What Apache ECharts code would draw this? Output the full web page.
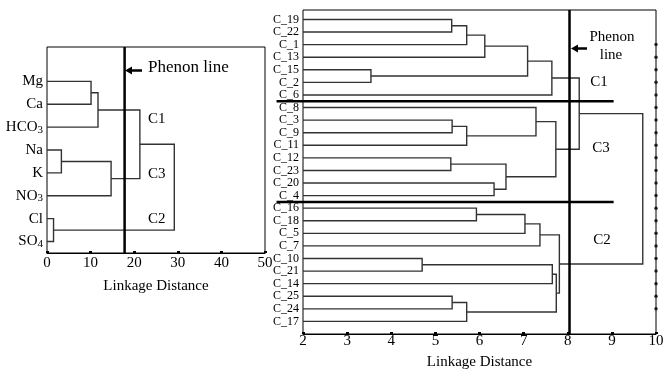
<!DOCTYPE html>
<html>
<head>
<meta charset="utf-8">
<script src="https://cdn.jsdelivr.net/npm/echarts@6/dist/echarts.min.js"></script>
<style>
  html, body { margin: 0; padding: 0; background: #fff; }
  #chart { width: 663px; height: 372px; }
</style>
</head>
<body>
<div id="chart"></div>
<script>
  // variables dendrogram (left)
  const leftLeaves = ['Mg', 'Ca', 'HCO3', 'Na', 'K', 'NO3', 'Cl', 'SO4'];
  // [child a, child b, linkage distance]; ids >= leaves.length are earlier merges
  const leftMerges = [
    [0, 1, 10.1], [8, 2, 11.7], [3, 4, 3.3], [10, 5, 14.7],
    [6, 7, 1.5], [9, 11, 21.3], [13, 12, 29.2]
  ];
  const leftTicks = [0, 10, 20, 30, 40, 50];
  const leftPhenon = 17.8;

  // samples dendrogram (right)
  const rightLeaves = ['C_19', 'C_22', 'C_1', 'C_13', 'C_15', 'C_2', 'C_6',
    'C_8', 'C_3', 'C_9', 'C_11', 'C_12', 'C_23', 'C_20', 'C_4',
    'C_16', 'C_18', 'C_5', 'C_7', 'C_10', 'C_21', 'C_14', 'C_25', 'C_24', 'C_17'];
  const rightMerges = [
    [0, 1, 5.37], [25, 2, 5.71], [26, 3, 6.12], [4, 5, 3.54], [27, 28, 7.09], [29, 6, 7.64],
    [8, 9, 5.38], [31, 10, 5.71], [7, 32, 7.28], [11, 12, 5.35], [13, 14, 6.33], [34, 35, 6.60],
    [33, 36, 7.73], [30, 37, 8.26],
    [15, 16, 5.93], [39, 17, 7.03], [40, 18, 7.37], [19, 20, 4.70], [42, 21, 7.65],
    [22, 23, 5.38], [44, 24, 5.71], [43, 45, 7.74], [41, 46, 7.81], [38, 47, 9.70]
  ];
  const rightGroups = [7, 8, 10]; // C1, C3, C2 sizes
  const rightTicks = [2, 3, 4, 5, 6, 7, 8, 9, 10];
  const rightPhenon = 8.04;

  const FONT = 'Liberation Serif';
  const LINE = '#333';

  function dendro(leaves, merges, base) {
    const pos = leaves.map((_, i) => [base, i]);
    const segs = [];
    merges.forEach(function (m) {
      const pa = pos[m[0]], pb = pos[m[1]], h = m[2];
      segs.push({ coords: [[pa[0], pa[1]], [h, pa[1]], [h, pb[1]], [pb[0], pb[1]]] });
      pos.push([h, (pa[1] + pb[1]) / 2]);
    });
    return segs;
  }

  function subLabel(name) {
    return name.replace(/(\d)$/, '{s|$1}');
  }

  const chart = echarts.init(document.getElementById('chart'));

  const xAxisBase = function (ticks, gridIndex, margin, nameGap) {
    return {
      type: 'value', gridIndex: gridIndex,
      min: ticks[0], max: ticks[ticks.length - 1], interval: ticks[1] - ticks[0],
      name: 'Linkage Distance', nameLocation: 'middle', nameGap: nameGap,
      nameTextStyle: { fontFamily: FONT, fontSize: 15, color: '#000' },
      axisLine: { show: true, onZero: false, lineStyle: { color: '#000', width: 1 } },
      axisTick: { show: true, inside: true, length: 2, lineStyle: { color: '#000', width: 3 } },
      axisLabel: { fontFamily: FONT, fontSize: 15, color: '#000', margin: margin },
      splitLine: { show: false }
    };
  };

  // boundaries between cluster groups
  const sepLines = [];
  let acc = 0;
  rightGroups.slice(0, -1).forEach(function (g) {
    acc += g;
    sepLines.push({ coords: [[1.4, acc - 0.5], [9.04, acc - 0.5]] });
  });

  const option = {
    animation: false,
    grid: [
      { left: 47, top: 47, width: 218, height: 206, show: true, borderColor: '#000', borderWidth: 1, outerBoundsMode: 'none' },
      { left: 303, top: 10, width: 353, height: 324, show: true, borderColor: '#000', borderWidth: 1, outerBoundsMode: 'none' }
    ],
    xAxis: [
      xAxisBase(leftTicks, 0, 3, 26),
      xAxisBase(rightTicks, 1, 0, 21)
    ],
    yAxis: [
      {
        type: 'value', gridIndex: 0, inverse: true, min: -1.5, max: leftLeaves.length - 0.5, interval: 0.5,
        axisLine: { show: false, onZero: false }, axisTick: { show: false }, splitLine: { show: false },
        axisLabel: {
          fontFamily: FONT, fontSize: 15, color: '#000', margin: 4,
          formatter: function (v) {
            return (Number.isInteger(v) && v >= 0 && v < leftLeaves.length) ? subLabel(leftLeaves[v]) : '';
          },
          rich: { s: { fontFamily: FONT, fontSize: 11, color: '#000', verticalAlign: 'bottom', padding: [5, 0, 0, 0] } }
        }
      },
      {
        type: 'value', gridIndex: 1, inverse: true, min: -0.75, max: rightLeaves.length, interval: 0.25,
        axisLine: { show: false, onZero: false }, axisTick: { show: false }, splitLine: { show: false },
        axisLabel: {
          fontFamily: FONT, fontSize: 12, color: '#000', margin: 4,
          formatter: function (v) {
            return (Number.isInteger(v) && v >= 0 && v < rightLeaves.length) ? rightLeaves[v] : '';
          }
        }
      }
    ],
    series: [
      {
        type: 'lines', coordinateSystem: 'cartesian2d', xAxisIndex: 0, yAxisIndex: 0,
        polyline: true, silent: true, data: dendro(leftLeaves, leftMerges, leftTicks[0]),
        lineStyle: { color: LINE, width: 1.4, opacity: 1 }
      },
      {
        type: 'lines', coordinateSystem: 'cartesian2d', xAxisIndex: 0, yAxisIndex: 0,
        polyline: true, silent: true,
        data: [{ coords: [[leftPhenon, -1.5], [leftPhenon, leftLeaves.length - 0.5]] }],
        lineStyle: { color: '#000', width: 2.5, opacity: 1 }
      },
      {
        type: 'lines', coordinateSystem: 'cartesian2d', xAxisIndex: 1, yAxisIndex: 1,
        polyline: true, silent: true, data: dendro(rightLeaves, rightMerges, rightTicks[0]),
        lineStyle: { color: LINE, width: 1.4, opacity: 1 }
      },
      {
        type: 'lines', coordinateSystem: 'cartesian2d', xAxisIndex: 1, yAxisIndex: 1,
        polyline: true, silent: true,
        data: [{ coords: [[rightPhenon, -0.75], [rightPhenon, rightLeaves.length]] }],
        lineStyle: { color: '#000', width: 2.5, opacity: 1 }
      },
      {
        type: 'lines', coordinateSystem: 'cartesian2d', xAxisIndex: 1, yAxisIndex: 1,
        polyline: true, silent: true, clip: false, data: sepLines,
        lineStyle: { color: '#000', width: 2.5, opacity: 1 }
      },
      {
        type: 'scatter', xAxisIndex: 1, yAxisIndex: 1, clip: false, silent: true,
        symbol: 'circle', symbolSize: 3.5, itemStyle: { color: '#000' },
        data: rightLeaves.slice(2, -1).map(function (_, i) { return [rightTicks[rightTicks.length - 1], i + 2]; })
      }
    ],
    graphic: [
      { type: 'text', left: 148, top: 59, style: { text: 'Phenon line', font: '17px "Liberation Serif"', fill: '#000' } },
      { type: 'line', shape: { x1: 130, y1: 70.5, x2: 142, y2: 70.5 }, style: { stroke: '#000', lineWidth: 2.5 } },
      { type: 'polygon', shape: { points: [[125, 70.5], [132, 66.5], [132, 74.5]] }, style: { fill: '#000' } },
      { type: 'text', left: 148, top: 112, style: { text: 'C1', font: '15px "Liberation Serif"', fill: '#000' } },
      { type: 'text', left: 148, top: 167, style: { text: 'C3', font: '15px "Liberation Serif"', fill: '#000' } },
      { type: 'text', left: 148, top: 212, style: { text: 'C2', font: '15px "Liberation Serif"', fill: '#000' } },

      { type: 'text', x: 612, y: 37, style: { text: 'Phenon', font: '15px "Liberation Serif"', fill: '#000', align: 'center', verticalAlign: 'middle' } },
      { type: 'text', x: 611, y: 55, style: { text: 'line', font: '15px "Liberation Serif"', fill: '#000', align: 'center', verticalAlign: 'middle' } },
      { type: 'line', shape: { x1: 577, y1: 48.5, x2: 587, y2: 48.5 }, style: { stroke: '#000', lineWidth: 2.5 } },
      { type: 'polygon', shape: { points: [[571, 48.5], [578, 44.5], [578, 52.5]] }, style: { fill: '#000' } },
      { type: 'text', x: 599, y: 82, style: { text: 'C1', font: '15px "Liberation Serif"', fill: '#000', align: 'center', verticalAlign: 'middle' } },
      { type: 'text', x: 601, y: 148, style: { text: 'C3', font: '15px "Liberation Serif"', fill: '#000', align: 'center', verticalAlign: 'middle' } },
      { type: 'text', x: 602, y: 240, style: { text: 'C2', font: '15px "Liberation Serif"', fill: '#000', align: 'center', verticalAlign: 'middle' } }
    ]
  };

  chart.setOption(option);
  window.addEventListener('resize', function () {
    chart.resize();
  });
</script>
</body>
</html>
